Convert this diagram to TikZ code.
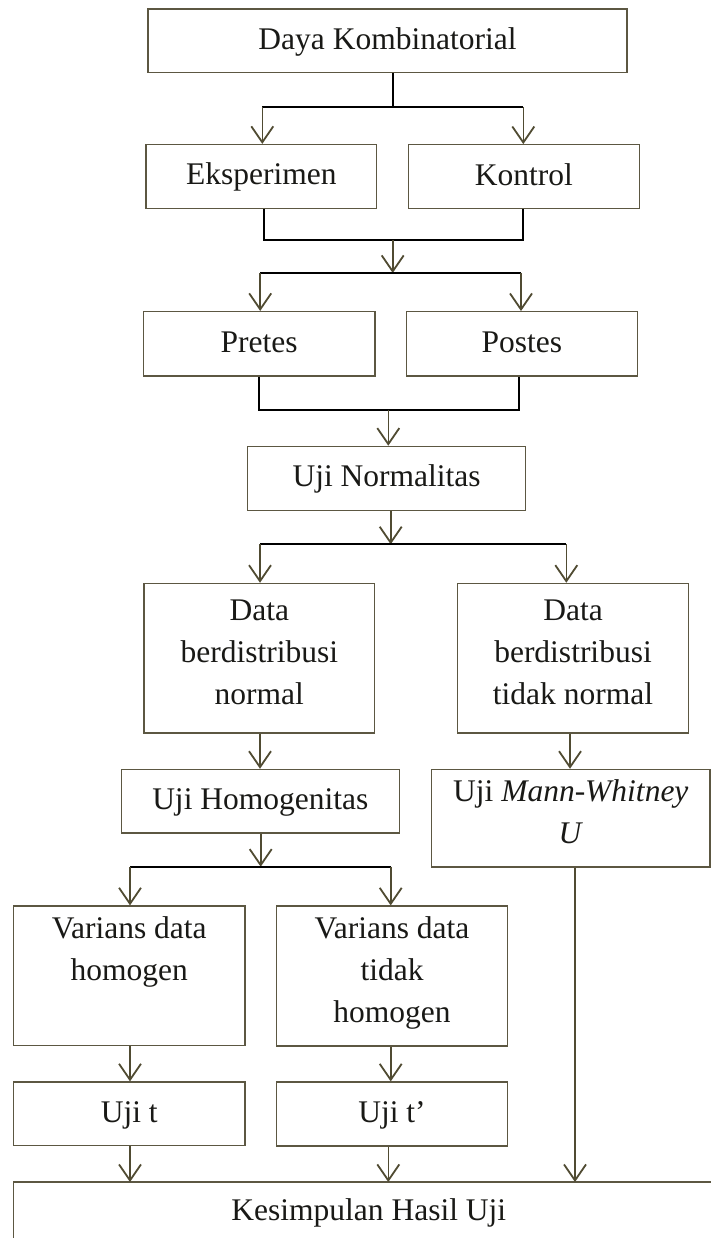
\documentclass[tikz,border=0pt]{standalone}
\usepackage{fontspec}
\setmainfont{Liberation Serif}
\usetikzlibrary{arrows.meta,calc}
\definecolor{boxcol}{RGB}{92,87,66}
\definecolor{arrcol}{RGB}{80,75,50}
\definecolor{txtcol}{RGB}{25,25,22}
\tikzset{
  box/.style={draw=boxcol, line width=1.2pt, inner sep=0pt, align=center,
    text=txtcol, font=\fontsize{31.5}{42}\selectfont,
    execute at begin node=\strut, execute at end node=\strut},
  lowtext/.style={execute at begin node=\rule{0pt}{33pt},
    execute at end node=\rule[-9pt]{0pt}{9pt}},
  txt/.style={inner sep=0pt, text=txtcol, font=\fontsize{31.5}{42}\selectfont},
  hline/.style={draw=black, line width=1.7pt},
  arr/.style={draw=arrcol, line width=1.6pt, -{Straight Barb[length=16pt,width=22pt,line width=1.8pt]}},
  kline/.style={draw=boxcol, line width=1.4pt}
}
\begin{document}
\begin{tikzpicture}[x=1pt,y=-1pt]
\useasboundingbox[fill=white] (0,0) rectangle (711,1238);

% boxes
\node[box, minimum width=479pt, minimum height=63.3pt] (daya) at (387.5,40.7) {Daya Kombinatorial};
\node[box, minimum width=230.7pt, minimum height=64.2pt] (eks) at (261.3,176.6) {Eksperimen};
\node[box, minimum width=231pt, minimum height=64pt] (kon) at (523.8,176.7) {Kontrol};
\node[box, minimum width=231.7pt, minimum height=64.5pt] (pre) at (259.2,343.8) {Pretes};
\node[box, minimum width=231pt, minimum height=64.3pt] (pos) at (521.8,343.8) {Postes};
\node[box, minimum width=278.2pt, minimum height=64pt] (norm) at (386.6,478.3) {Uji Normalitas};
\node[box, minimum width=230.7pt, minimum height=149.7pt] (dn) at (259.3,658.2) {Data\\berdistribusi\\normal};
\node[box, minimum width=230.6pt, minimum height=149.7pt] (dtn) at (573,658.2) {Data\\berdistribusi\\tidak normal};
\node[box, minimum width=278pt, minimum height=63.7pt] (homo) at (260.3,801.2) {Uji Homogenitas};
\node[box, lowtext, minimum width=278.3pt, minimum height=97.7pt] (mw) at (570.8,818.2) {Uji \textit{Mann-Whitney}\\\textit{U}};
\node[box, lowtext, minimum width=231.3pt, minimum height=139.7pt] (vh) at (129.3,975.8) {Varians data\\homogen\\\mbox{}};
\node[box, lowtext, minimum width=230.6pt, minimum height=140pt] (vth) at (392,976) {Varians data\\tidak\\homogen};
\node[box, minimum width=231.3pt, minimum height=63.7pt] (ut) at (129.3,1113.8) {Uji t};
\node[box, minimum width=230.6pt, minimum height=64pt] (utp) at (392,1114) {Uji t’};
\node[txt, anchor=base] (kes) at (368.8,1220) {Kesimpulan Hasil Uji};

% open box of the conclusion
\coordinate (kestop) at (13.7,1182);
\draw[kline] (720,1182) -- (kestop) -- (13.7,1250);

% junction coordinates
\coordinate (j1) at (393.3,107);
\coordinate (j2) at (392.7,240);
\coordinate (j3) at (392.7,273);
\coordinate (j4) at (388.3,409.7);
\coordinate (j5) at (390.7,544.3);
\coordinate (j6) at (260.7,866.7);

% level 1
\draw[hline] (daya.south -| j1) -- (j1);
\draw[hline] ([xshift=1pt]eks.north |- j1) -- ([xshift=-0.5pt]kon.north |- j1);
\draw[arr] ([xshift=1pt]eks.north |- j1) -- ([xshift=1pt]eks.north);
\draw[arr] ([xshift=-0.5pt]kon.north |- j1) -- ([xshift=-0.5pt]kon.north);

% level 2
\draw[hline] ([xshift=3pt]eks.south) -- ([xshift=3pt]eks.south |- j2) -- ([xshift=-0.5pt]kon.south |- j2) -- ([xshift=-0.5pt]kon.south);
\draw[arr] (j2) -- (j3);
\draw[hline] ([xshift=1pt]pre.north |- j3) -- ([xshift=-0.8pt]pos.north |- j3);
\draw[arr] ([xshift=1pt]pre.north |- j3) -- ([xshift=1pt]pre.north);
\draw[arr] ([xshift=-0.8pt]pos.north |- j3) -- ([xshift=-0.8pt]pos.north);

% level 3
\draw[hline] (pre.south) -- (pre.south |- j4) -- ([xshift=-3pt]pos.south |- j4) -- ([xshift=-3pt]pos.south);
\draw[arr] (j4) -- (j4 |- norm.north);

% level 4
\draw[arr] (norm.south -| j5) -- (j5);
\draw[hline] ([xshift=0.7pt]dn.north |- j5) -- ([xshift=-6.7pt]dtn.north |- j5);
\draw[arr] ([xshift=0.7pt]dn.north |- j5) -- ([xshift=0.7pt]dn.north);
\draw[arr] ([xshift=-6.7pt]dtn.north |- j5) -- ([xshift=-6.7pt]dtn.north);

% level 5
\draw[arr] ([xshift=0.7pt]dn.south) -- ([xshift=0.7pt]dn.south |- homo.north);
\draw[arr] ([xshift=-3pt]dtn.south) -- ([xshift=-3pt]dtn.south |- mw.north);

% level 6
\draw[arr] (homo.south -| j6) -- (j6);
\draw[hline] ([xshift=0.7pt]vh.north |- j6) -- ([xshift=-1.3pt]vth.north |- j6);
\draw[arr] ([xshift=0.7pt]vh.north |- j6) -- ([xshift=0.7pt]vh.north);
\draw[arr] ([xshift=-1.3pt]vth.north |- j6) -- ([xshift=-1.3pt]vth.north);

% level 7
\draw[arr] ([xshift=0.7pt]vh.south) -- ([xshift=0.7pt]ut.north);
\draw[arr] ([xshift=-1.3pt]vth.south) -- ([xshift=-1.3pt]utp.north);

% level 8
\draw[arr] ([xshift=0.7pt]ut.south) -- ([xshift=0.7pt]ut.south |- kestop);
\draw[arr] ([xshift=-3.7pt]utp.south) -- ([xshift=-3.7pt]utp.south |- kestop);
\draw[arr] ([xshift=4.2pt]mw.south) -- ([xshift=4.2pt]mw.south |- kestop);
\end{tikzpicture}
\end{document}
